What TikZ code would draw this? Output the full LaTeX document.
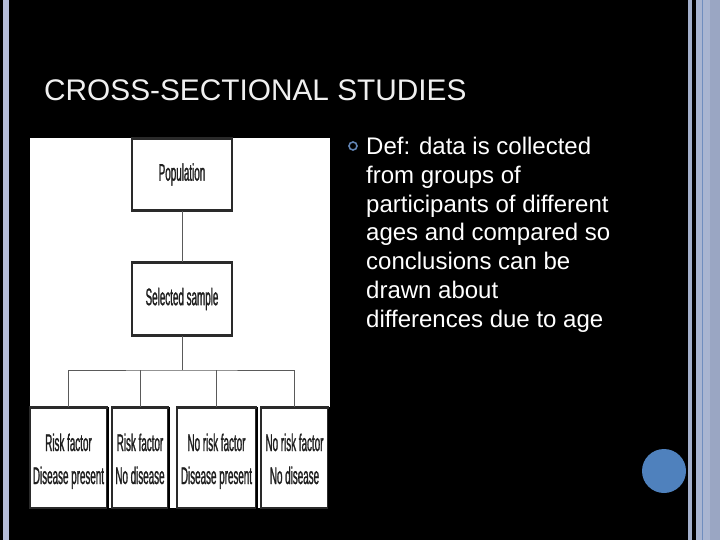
\documentclass[tikz,border=0pt]{standalone}
\usepackage{fontspec}
\setmainfont{Liberation Sans}
\newfontfamily\condfont[FakeStretch=0.41,FakeBold=1]{Liberation Sans}
\definecolor{barA}{HTML}{B4BCD8}
\definecolor{barB}{HTML}{A3AFCB}
\definecolor{barC}{HTML}{A9B5D1}
\definecolor{barD}{HTML}{6F8DBE}
\definecolor{barE}{HTML}{9AA6C3}
\definecolor{circc}{HTML}{4F81BD}
\definecolor{bulletc}{HTML}{6284B4}
\definecolor{connc}{HTML}{5A5A5A}
\definecolor{boxline}{HTML}{2A2A2A}
\definecolor{boxtext}{HTML}{1E1E1E}
\definecolor{titlec}{HTML}{F0F0F0}
\newcommand{\lowstrut}{\rule{0pt}{26pt}}
\newcommand{\deepstrut}{\rule[-7pt]{0pt}{1pt}}
\begin{document}
\begin{tikzpicture}[x=1pt,y=-1pt,
  box/.style={draw=boxline, line width=1.5pt, fill=white, inner sep=0pt,
    font=\condfont\fontsize{24}{33}\selectfont, text=boxtext, align=center},
  conn/.style={draw=connc, line width=1pt},
  edge/.style={draw=black, line width=2.5pt},
  topedge/.style={draw=boxline, line width=2.5pt},
  bodytext/.style={anchor=base west, inner sep=0pt, text=white,
    font=\fontsize{24}{28.8}\selectfont}]
\useasboundingbox (0,0) rectangle (720,540);
\fill[black] (0,0) rectangle (720,540);
% side bars
\fill[barA] (3,0) rectangle (9,540);
\fill[barB] (688,0) rectangle (692,540);
\fill[barC] (696,0) rectangle (720,540);
\fill[barD] (702,0) rectangle (703.3,540);
\fill[barE] (710,0) rectangle (720,540);
\fill[circc] (664,471) circle (22pt);
% title
\node[anchor=base west, inner sep=0pt, text=titlec,
  font=\fontsize{29.8}{36}\selectfont] (title) at (44,100.5) {CROSS-SECTIONAL STUDIES};
% image area
\fill[white] (30,138) rectangle (330,508);
\node[box, minimum width=100pt, minimum height=71pt] (pop) at (182,174.5) {Population};
\node[box, minimum width=100pt, minimum height=72pt] (sam) at (182,299) {Selected sample};
\node[box, minimum width=77pt, minimum height=100pt] (b1) at (68.5,458) {\lowstrut Risk factor\\Disease present\deepstrut};
\node[box, minimum width=56pt, minimum height=100pt] (b2) at (140,458) {\lowstrut Risk factor\\No disease\deepstrut};
\node[box, minimum width=79pt, minimum height=100pt] (b3) at (216.5,458) {\lowstrut No risk factor\\Disease present\deepstrut};
\node[box, minimum width=67pt, minimum height=100pt] (b4) at (294.5,458) {\lowstrut No risk factor\\No disease\deepstrut};
\draw[topedge] (pop.north west) -- (pop.north east);
\draw[topedge] (pop.south west) -- (pop.south east);
\draw[topedge] (sam.north west) -- (sam.north east);
\draw[topedge] (sam.south west) -- (sam.south east);
\draw[edge] (b1.north east) -- (b1.south east);
\draw[edge] (b2.north east) -- (b2.south east);
\draw[edge] (b3.north east) -- (b3.south east);
\draw[edge] (b4.north east) -- (b4.south east);
\draw[topedge] (b1.north west) -- (b1.north east);
\draw[topedge] (b2.north west) -- (b2.north east);
\draw[topedge] (b3.north west) -- (b3.north east);
\draw[topedge] (b4.north west) -- (b4.north east);
\coordinate (j) at (182,370);
\draw[conn] (pop.south) -- (sam.north);
\draw[conn] (sam.south) -- (j);
\draw[conn] (b1.north) |- (j) -| (b4.north);
\draw[conn] (b2.north) -- (b2.north |- j);
\draw[conn] (b3.north) -- (b3.north |- j);
% bullet text
\node[circle, draw=bulletc, line width=1.6pt, minimum size=8pt, inner sep=0pt] (bul) at (353,146) {};
\node[bodytext] (l1) at (366,154.5) {Def: data is collected};
\node[bodytext] (l2) at (366,183.3) {from groups of};
\node[bodytext] (l3) at (366,212.1) {participants of different};
\node[bodytext] (l4) at (366,240.9) {ages and compared so};
\node[bodytext] (l5) at (366,269.7) {conclusions can be};
\node[bodytext] (l6) at (366,298.5) {drawn about};
\node[bodytext] (l7) at (366,327.3) {differences due to age};
\end{tikzpicture}
\end{document}
